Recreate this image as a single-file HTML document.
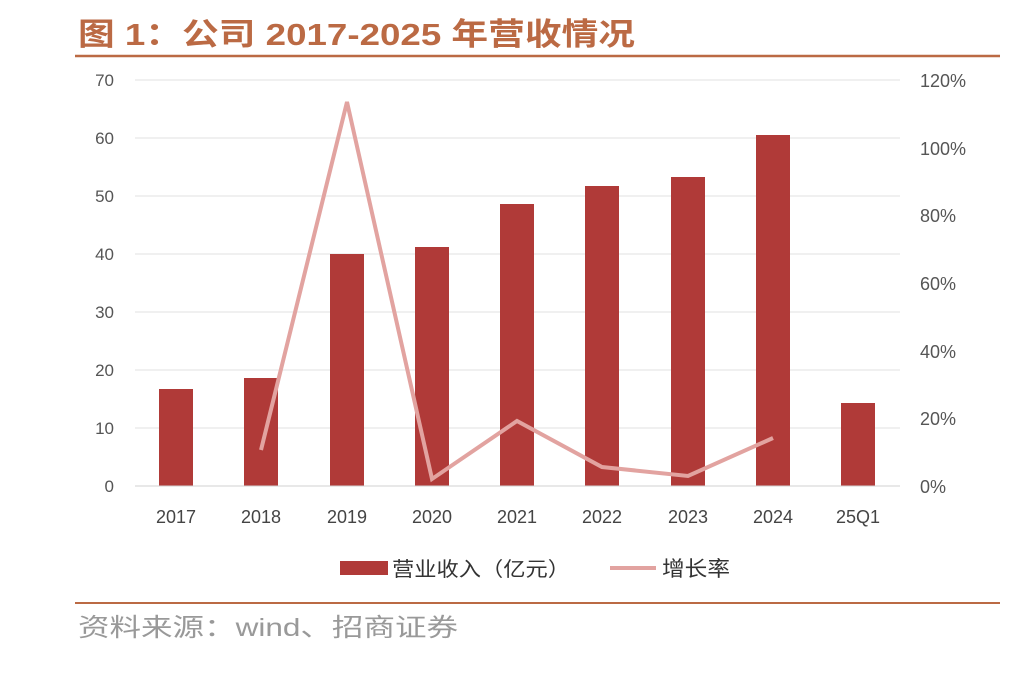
<!DOCTYPE html>
<html><head><meta charset="utf-8"><style>
body{margin:0;background:#fff;width:1024px;height:671px;overflow:hidden}
text{font-family:"Liberation Sans","Noto Sans CJK SC",sans-serif}
</style></head><body>
<svg width="1024" height="671" viewBox="0 0 1024 671">
<text x="78" y="45" font-size="31" font-weight="bold" fill="#bb6a44" textLength="557" lengthAdjust="spacingAndGlyphs">图 1：公司 2017-2025 年营收情况</text>
<line x1="75" y1="56" x2="1000" y2="56" stroke="#bb6a44" stroke-width="2.5"/>
<g stroke="#e2e2e2" stroke-width="1">
<line x1="135" y1="80" x2="900" y2="80"/><line x1="135" y1="138" x2="900" y2="138"/>
<line x1="135" y1="196" x2="900" y2="196"/><line x1="135" y1="254" x2="900" y2="254"/>
<line x1="135" y1="312" x2="900" y2="312"/><line x1="135" y1="370" x2="900" y2="370"/>
<line x1="135" y1="428" x2="900" y2="428"/>
</g>
<g font-size="17" fill="#555" text-anchor="end">
<text x="114" y="86">70</text><text x="114" y="144">60</text><text x="114" y="202">50</text>
<text x="114" y="260">40</text><text x="114" y="318">30</text><text x="114" y="376">20</text>
<text x="114" y="434">10</text><text x="114" y="492">0</text>
</g>
<g font-size="18" fill="#555">
<text x="920" y="87">120%</text><text x="920" y="155">100%</text><text x="920" y="222">80%</text>
<text x="920" y="290">60%</text><text x="920" y="358">40%</text><text x="920" y="425">20%</text>
<text x="920" y="493">0%</text>
</g>
<g fill="#b03a38">
<rect x="159" y="389" width="34" height="97"/><rect x="244" y="378" width="34" height="108"/>
<rect x="330" y="254" width="34" height="232"/><rect x="415" y="247" width="34" height="239"/>
<rect x="500" y="204" width="34" height="282"/><rect x="585" y="186" width="34" height="300"/>
<rect x="671" y="177" width="34" height="309"/><rect x="756" y="135" width="34" height="351"/>
<rect x="841" y="403" width="34" height="83"/>
</g>
<line x1="135" y1="486" x2="900" y2="486" stroke="#d0d0d0"/>
<polyline points="261,450 347,102 432,479 517,421 602,467 688,476 773,438" fill="none" stroke="#e2a3a0" stroke-width="4"/>
<g font-size="18" fill="#444" text-anchor="middle">
<text x="176" y="523">2017</text><text x="261" y="523">2018</text><text x="347" y="523">2019</text>
<text x="432" y="523">2020</text><text x="517" y="523">2021</text><text x="602" y="523">2022</text>
<text x="688" y="523">2023</text><text x="773" y="523">2024</text><text x="858" y="523">25Q1</text>
</g>
<rect x="340" y="561" width="48" height="14" fill="#b03a38"/>
<text x="392" y="576" font-size="20" fill="#333" textLength="178" lengthAdjust="spacingAndGlyphs">营业收入（亿元）</text>
<line x1="610" y1="568" x2="656" y2="568" stroke="#e2a3a0" stroke-width="4"/>
<text x="662" y="576" font-size="21" fill="#333" textLength="68" lengthAdjust="spacingAndGlyphs">增长率</text>
<line x1="75" y1="603" x2="1000" y2="603" stroke="#bb6a44" stroke-width="2"/>
<text x="78" y="636" font-size="25" fill="#999" textLength="380" lengthAdjust="spacingAndGlyphs">资料来源：wind、招商证券</text>
</svg>
</body></html>
